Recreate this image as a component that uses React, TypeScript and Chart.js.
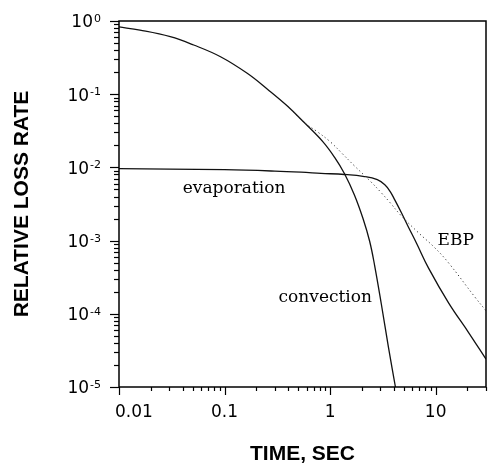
import React, { useEffect, useRef } from 'react';
import { Chart, registerables } from 'chart.js';

Chart.register(...registerables);

// ---- data ----
const convectionTime = [0.01, 0.0158, 0.0306, 0.051, 0.0916, 0.164, 0.255, 0.396, 0.569, 0.853, 1.1, 1.37, 1.7, 2.05, 2.37, 2.64, 3.06, 3.57, 4.16];
const convectionRate = [0.83, 0.75, 0.61, 0.47, 0.325, 0.193, 0.117, 0.0685, 0.041, 0.0225, 0.0138, 0.0082, 0.0042, 0.002, 0.00098, 0.00046, 0.000135, 0.000035, 0.00001];

const evaporationTime = [0.01, 0.03, 0.1, 0.3, 0.53, 0.82, 1.37, 2.12, 2.8, 3.3, 3.7, 4.1, 4.74, 5.5, 6.59, 8.57, 13.3, 20.6, 30];
const evaporationRate = [0.0096, 0.0095, 0.0093, 0.0089, 0.0086, 0.0083, 0.008, 0.0075, 0.0068, 0.0058, 0.0047, 0.0036, 0.0024, 0.00155, 0.00092, 0.00042, 0.00014, 0.000055, 0.000024];

const ebpTime = [0.4, 0.57, 0.75, 1.0, 1.3, 1.7, 2.4, 3.1, 3.7, 4.7, 6.8, 9.8, 13.2, 23.5, 30];
const ebpRate = [0.068, 0.041, 0.031, 0.0225, 0.0155, 0.0105, 0.0065, 0.0044, 0.0033, 0.0022, 0.0013, 0.0008, 0.0005, 0.00017, 0.00011];

const xTickValues = [0.01, 0.1, 1, 10];
const xTickLabels = ['0.01', '0.1', '1', '10'];
const yTickExponents = [0, -1, -2, -3, -4, -5];

const xTitle = 'TIME, SEC';
const yTitle = 'RELATIVE LOSS RATE';

const curveNames = ['evaporation', 'convection', 'EBP'];

const toPoints = (xs: number[], ys: number[]) => xs.map((x, i) => ({ x, y: ys[i] }));

const TICK_FONT = '17px "DejaVu Sans"';
const SUP_FONT = '11px "DejaVu Sans"';
const LABEL_FONT = '17px "DejaVu Serif"';

const framePlugin = {
  id: 'framePlugin',
  afterDraw(chart: any) {
    const { ctx, chartArea } = chart;
    const xs = chart.scales.x;
    const ys = chart.scales.y;
    const { left, right, top, bottom } = chartArea;
    ctx.save();
    ctx.strokeStyle = '#000';
    ctx.fillStyle = '#000';

    // frame
    ctx.lineWidth = 1.5;
    ctx.strokeRect(left, top, right - left, bottom - top);

    // y tick marks (outside, left)
    ctx.lineWidth = 1.2;
    for (let e = -5; e <= 0; e++) {
      for (let k = 1; k <= 9; k++) {
        const v = k * Math.pow(10, e);
        if (v > ys.max * 1.0001) break;
        const y = Math.round(ys.getPixelForValue(v)) + 0.5;
        const len = k === 1 ? 9 : 5;
        ctx.beginPath();
        ctx.moveTo(left - len, y);
        ctx.lineTo(left, y);
        ctx.stroke();
      }
    }
    // x tick marks (outside, down)
    for (let e = -2; e <= 1; e++) {
      for (let k = 1; k <= 9; k++) {
        const v = k * Math.pow(10, e);
        if (v > xs.max * 1.0001) break;
        const x = Math.round(xs.getPixelForValue(v)) + 0.5;
        const len = k === 1 ? 8 : 4;
        ctx.beginPath();
        ctx.moveTo(x, bottom);
        ctx.lineTo(x, bottom + len);
        ctx.stroke();
      }
    }

    // y tick labels: 10 with superscript exponent
    const labelRight = left - 18;
    yTickExponents.forEach((ex) => {
      const y = ys.getPixelForValue(Math.pow(10, ex));
      const expStr = ex === 0 ? '0' : '-' + String(-ex);
      ctx.font = SUP_FONT;
      const ew = ctx.measureText(expStr).width;
      ctx.textAlign = 'left';
      ctx.textBaseline = 'alphabetic';
      ctx.fillText(expStr, labelRight - ew, y + 1);
      ctx.font = TICK_FONT;
      ctx.textAlign = 'right';
      ctx.textBaseline = 'middle';
      ctx.fillText('10', labelRight - ew - 1, y + 2);
    });

    // x tick labels
    ctx.font = TICK_FONT;
    ctx.textBaseline = 'top';
    xTickValues.forEach((v, i) => {
      const x = xs.getPixelForValue(v);
      if (i === 0) {
        ctx.textAlign = 'left';
        ctx.fillText(xTickLabels[i], x - 4, bottom + 17);
      } else {
        ctx.textAlign = 'center';
        ctx.fillText(xTickLabels[i], x, bottom + 17);
      }
    });

    // curve labels
    ctx.font = LABEL_FONT;
    ctx.textAlign = 'center';
    ctx.textBaseline = 'alphabetic';
    const anchors = [
      [0.123, 0.0045],
      [0.9, 0.000145],
      [15.5, 0.00087],
    ];
    curveNames.forEach((name, i) => {
      ctx.fillText(name, xs.getPixelForValue(anchors[i][0]), ys.getPixelForValue(anchors[i][1]));
    });
    ctx.restore();
  },
};

export default function App() {
  const canvasRef = useRef<HTMLCanvasElement | null>(null);

  useEffect(() => {
    if (!canvasRef.current) return;
    const chart = new Chart(canvasRef.current, {
      type: 'scatter',
      data: {
        datasets: [
          {
            label: 'EBP',
            data: toPoints(ebpTime, ebpRate),
            showLine: true,
            borderColor: '#333',
            borderWidth: 1,
            borderDash: [1.2, 2.8],
            pointRadius: 0,
            tension: 0.4,
          },
          {
            label: 'convection',
            data: toPoints(convectionTime, convectionRate),
            showLine: true,
            borderColor: '#111',
            borderWidth: 1.3,
            pointRadius: 0,
            tension: 0.4,
          },
          {
            label: 'evaporation',
            data: toPoints(evaporationTime, evaporationRate),
            showLine: true,
            borderColor: '#111',
            borderWidth: 1.3,
            pointRadius: 0,
            tension: 0.4,
          },
        ],
      },
      options: {
        animation: false,
        responsive: true,
        maintainAspectRatio: false,
        layout: { padding: { top: 21, right: 4, left: 0, bottom: 0 } },
        plugins: { legend: { display: false }, tooltip: { enabled: false } },
        scales: {
          x: {
            type: 'logarithmic',
            min: 0.01,
            max: 30,
            grid: { display: false, drawTicks: false },
            border: { display: false },
            ticks: { display: false },
            title: {
              display: true,
              text: xTitle,
              color: '#000',
              font: { family: '"Liberation Sans", Arial, sans-serif', size: 21, weight: 'bold', lineHeight: 1 },
              padding: { top: 0, bottom: -1 },
            },
            afterFit: (s: any) => { s.height = 77; },
          },
          y: {
            type: 'logarithmic',
            min: 0.00001,
            max: 1,
            grid: { display: false, drawTicks: false },
            border: { display: false },
            ticks: { display: false },
            title: {
              display: true,
              text: yTitle,
              color: '#000',
              font: { family: '"Liberation Sans", Arial, sans-serif', size: 21, weight: 'bold', lineHeight: 1 },
              padding: { top: 12, bottom: 0 },
            },
            afterFit: (s: any) => { s.width = 119; },
          },
        },
      },
      plugins: [framePlugin],
    } as any);
    return () => chart.destroy();
  }, []);

  return (
    <div style={{ position: 'absolute', left: 0, top: 0, width: 490, height: 464, background: '#fff' }}>
      <canvas ref={canvasRef} />
    </div>
  );
}
